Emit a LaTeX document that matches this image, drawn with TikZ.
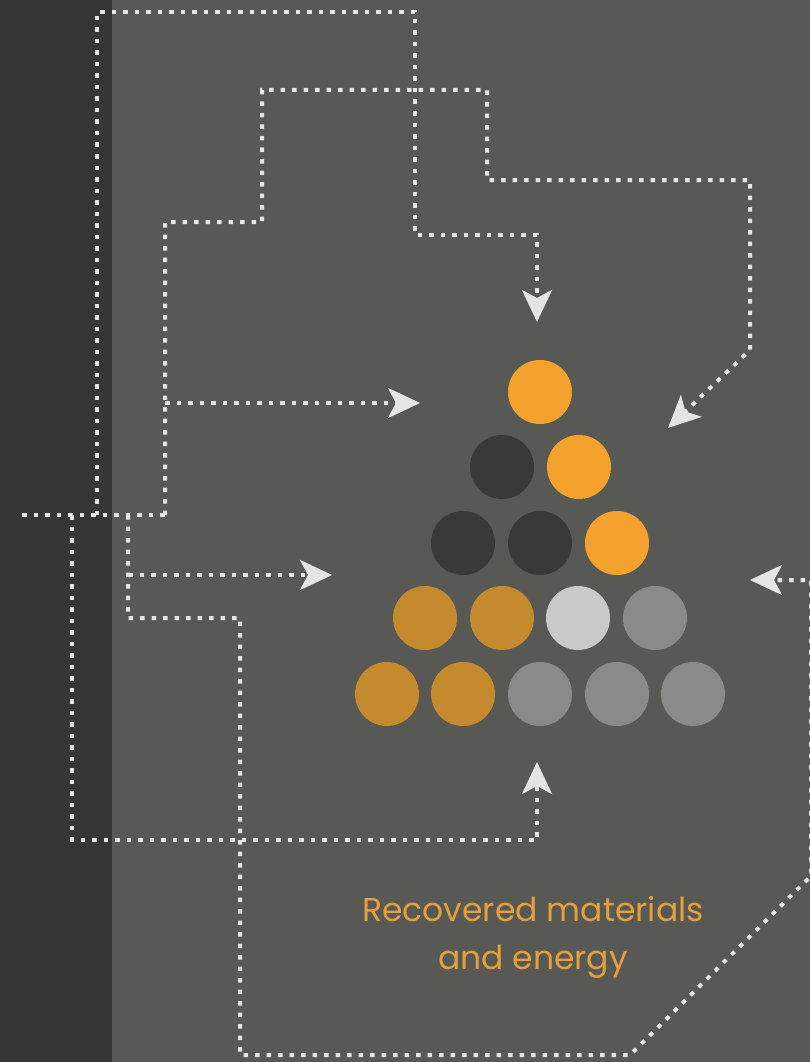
\documentclass[tikz,border=0pt]{standalone}
\usepackage{fontspec}
\setmainfont{Poppins}
\usetikzlibrary{arrows.meta}
\definecolor{bgmain}{HTML}{585854}
\definecolor{bgstrip}{HTML}{363632}
\definecolor{dotline}{HTML}{E4E4E0}
\definecolor{brightorange}{HTML}{F4A22D}
\definecolor{goldball}{HTML}{C68A2E}
\definecolor{darkball}{HTML}{393935}
\definecolor{lightball}{HTML}{C9C9C7}
\definecolor{midball}{HTML}{8A8A88}
\definecolor{labelorange}{HTML}{E3A13C}
\tikzset{
  flow/.style={draw=dotline, line width=4pt, dash pattern=on 4.5pt off 7pt},
  flowarrow/.style={flow, -{Stealth[length=32pt,width=30pt,inset=8pt,fill=dotline]}},
  ball/.style={circle, minimum size=64pt, inner sep=0pt, draw=none, fill=#1},
}
\begin{document}
\begin{tikzpicture}[x=1pt,y=-1pt]
  % backdrop
  \fill[bgmain] (0,0) rectangle (810,1062);
  \fill[bgstrip] (0,0) rectangle (112,1062);
  \useasboundingbox (0,0) rectangle (810,1062);

  % pyramid of materials
  \node[ball=brightorange] (b11) at (540,392) {};
  \node[ball=darkball]     (b21) at (502,467) {};
  \node[ball=brightorange] (b22) at (579,467) {};
  \node[ball=darkball]     (b31) at (463,543) {};
  \node[ball=darkball]     (b32) at (540,543) {};
  \node[ball=brightorange] (b33) at (617,543) {};
  \node[ball=goldball]     (b41) at (425,618) {};
  \node[ball=goldball]     (b42) at (502,618) {};
  \node[ball=lightball]    (b43) at (578,618) {};
  \node[ball=midball]      (b44) at (655,618) {};
  \node[ball=goldball]     (b51) at (387,694) {};
  \node[ball=goldball]     (b52) at (463,694) {};
  \node[ball=midball]      (b53) at (540,694) {};
  \node[ball=midball]      (b54) at (617,694) {};
  \node[ball=midball]      (b55) at (693,694) {};

  % label
  \node[text=labelorange, font=\fontsize{33}{48}\selectfont, align=center] (label)
    at (533,937) {Recovered materials\\and energy};

  % start and end points of the flows
  \coordinate (feedL)  at (22,515);
  \coordinate (feedR)  at (165,515);
  \coordinate (jA)     at (97,515);
  \coordinate (jC)     at (72,515);
  \coordinate (jD)     at (128,515);
  \coordinate (tipTop) at (537,322);
  \coordinate (tipNE)  at (668,428);
  \coordinate (tipW1)  at (420,403);
  \coordinate (tipW2)  at (332,575);
  \coordinate (tipS)   at (537,762);
  \coordinate (tipE)   at (750,580);
  \coordinate (brW1)   at (165,403);
  \coordinate (brW2)   at (128,575);

  % shared feed line
  \draw[flow] (feedL) -- (feedR);

  % outer loop to the top
  \draw[flowarrow] (jA) -- (97,12) -- (415,12) -- (415,235) -| (tipTop);

  % stepped loop to the upper right
  \draw[flowarrow] (feedR) -- (165,222) -- (262,222) -- (262,90) -- (487,90)
    -- (487,180) -- (750,180) -- (750,350) -- (tipNE);
  \draw[flowarrow] (brW1) -- (tipW1);

  % loop from below
  \draw[flowarrow] (jC) -- (72,840) -| (tipS);

  % wide loop round the bottom and right side
  \draw[flowarrow] (jD) -- (128,618) -- (240,618) -- (240,1055) -- (630,1055)
    -- (811,876) -- (811,580) -- (tipE);
  \draw[flowarrow] (brW2) -- (tipW2);
\end{tikzpicture}
\end{document}
